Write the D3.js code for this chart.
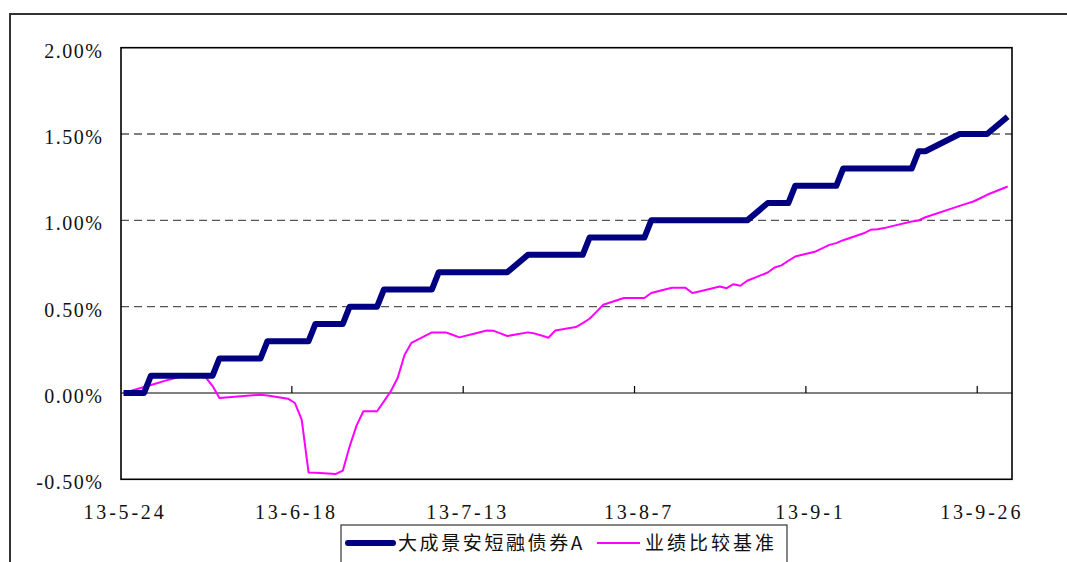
<!DOCTYPE html>
<html><head><meta charset="utf-8">
<script src="https://cdn.jsdelivr.net/npm/d3@7"></script>
<style>html,body{margin:0;padding:0;background:#fff;}svg{display:block;}</style>
</head><body>
<svg id="c" width="1067" height="562"></svg>
<script>
const dates = ["2013-05-24","2013-05-27","2013-05-28","2013-05-29","2013-05-30","2013-05-31",
"2013-06-03","2013-06-04","2013-06-05","2013-06-06","2013-06-07","2013-06-13","2013-06-14",
"2013-06-17","2013-06-18","2013-06-19","2013-06-20","2013-06-21","2013-06-24","2013-06-25",
"2013-06-26","2013-06-27","2013-06-28","2013-06-30","2013-07-01","2013-07-02","2013-07-03",
"2013-07-04","2013-07-05","2013-07-08","2013-07-09","2013-07-10","2013-07-11","2013-07-12",
"2013-07-15","2013-07-16","2013-07-17","2013-07-18","2013-07-19","2013-07-22","2013-07-23",
"2013-07-24","2013-07-25","2013-07-26","2013-07-29","2013-07-30","2013-07-31","2013-08-01",
"2013-08-02","2013-08-05","2013-08-06","2013-08-07","2013-08-08","2013-08-09","2013-08-12",
"2013-08-13","2013-08-14","2013-08-15","2013-08-16","2013-08-19","2013-08-20","2013-08-21",
"2013-08-22","2013-08-23","2013-08-26","2013-08-27","2013-08-28","2013-08-29","2013-08-30",
"2013-09-02","2013-09-03","2013-09-04","2013-09-05","2013-09-06","2013-09-09","2013-09-10",
"2013-09-11","2013-09-12","2013-09-13","2013-09-16","2013-09-17","2013-09-18","2013-09-23",
"2013-09-24","2013-09-25","2013-09-26","2013-09-27","2013-09-30"];

// 大成景安短融债券A (%)
const fund = [0,0,0.1,0.1,0.1,0.1,
0.1,0.1,0.1,0.1,0.2,0.2,0.3,
0.3,0.3,0.3,0.3,0.4,0.4,0.4,
0.5,0.5,0.5,0.5,0.6,0.6,0.6,
0.6,0.6,0.6,0.7,0.7,0.7,0.7,
0.7,0.7,0.7,0.7,0.7,0.8,0.8,
0.8,0.8,0.8,0.8,0.8,0.9,0.9,
0.9,0.9,0.9,0.9,0.9,1.0,1.0,
1.0,1.0,1.0,1.0,1.0,1.0,1.0,
1.0,1.0,1.1,1.1,1.1,1.1,1.2,
1.2,1.2,1.2,1.2,1.3,1.3,1.3,
1.3,1.3,1.3,1.3,1.4,1.4,1.5,
1.5,1.5,1.5,1.5,1.6];

// 业绩比较基准 (%)
const bench = [0,0.035,0.046,0.058,0.070,0.081,
0.110,0.100,0.090,0.040,-0.029,-0.010,-0.014,
-0.033,-0.058,-0.155,-0.460,-0.462,-0.469,-0.450,
-0.309,-0.189,-0.106,-0.106,-0.049,0.010,0.087,
0.220,0.290,0.351,0.351,0.351,0.337,0.322,
0.352,0.362,0.360,0.345,0.330,0.351,0.344,
0.333,0.320,0.362,0.382,0.405,0.430,0.470,
0.511,0.550,0.550,0.550,0.550,0.579,0.609,
0.609,0.609,0.579,0.588,0.617,0.607,0.630,
0.621,0.650,0.698,0.727,0.739,0.766,0.790,
0.820,0.839,0.858,0.868,0.885,0.925,0.945,
0.949,0.955,0.965,0.993,0.999,1.018,1.084,
1.097,1.109,1.128,1.148,1.196];

const seriesNames = ["大成景安短融债券A","业绩比较基准"];
const yTicks = [-0.5, 0, 0.5, 1.0, 1.5, 2.0];
const yTickLabels = ["-0.50%","0.00%","0.50%","1.00%","1.50%","2.00%"];
const xTickDates = ["2013-05-24","2013-06-18","2013-07-13","2013-08-07","2013-09-01","2013-09-26"];
const xTickLabels = ["13-5-24","13-6-18","13-7-13","13-8-7","13-9-1","13-9-26"];
const xDomain = ["2013-05-24","2013-10-01"];

const svg = d3.select("#c");
const W = 1067, H = 562;
const L = 121, R = 1012, T = 47.7, B = 479.3;
const parse = d3.utcParse("%Y-%m-%d");
const serifFont = "'Liberation Serif', 'Times New Roman', 'DejaVu Serif', serif";

const x = d3.scaleUtc().domain(xDomain.map(parse)).range([L + 2.5, R + 2.5]);
const y = d3.scaleLinear().domain([-0.5, 2.0]).range([B, T]);

// outer frame
svg.append("rect").attr("x", 10).attr("y", 14).attr("width", W + 20).attr("height", H + 20)
  .attr("fill", "none").attr("stroke", "#333").attr("stroke-width", 2);

// gridlines (dashed)
svg.append("g").selectAll("line").data(yTicks.filter(v => v > 0 && v < 2))
  .join("line")
  .attr("x1", L).attr("x2", R)
  .attr("y1", d => y(d)).attr("y2", d => y(d))
  .attr("stroke", "#555").attr("stroke-width", 1.3).attr("stroke-dasharray", "8,5");

// zero axis line
svg.append("line").attr("x1", L).attr("x2", R).attr("y1", y(0)).attr("y2", y(0))
  .attr("stroke", "#000").attr("stroke-width", 1.2);

// x tick marks on zero line
svg.append("g").selectAll("line").data(xTickDates.slice(1))
  .join("line")
  .attr("x1", d => x(parse(d)) - 3).attr("x2", d => x(parse(d)) - 3)
  .attr("y1", y(0)).attr("y2", y(0) - 7)
  .attr("stroke", "#000").attr("stroke-width", 1.2);

// plot frame
svg.append("rect").attr("x", L).attr("y", T).attr("width", R - L).attr("height", B - T)
  .attr("fill", "none").attr("stroke", "#000").attr("stroke-width", 1.6);

// y labels
svg.append("g").selectAll("text").data(yTicks)
  .join("text")
  .attr("x", 103.5).attr("y", d => y(d) + 10)
  .attr("text-anchor", "end")
  .style("font-family", serifFont).attr("font-size", 20)
  .attr("letter-spacing", "1.5px").attr("fill", "#111")
  .text((d, i) => yTickLabels[i]);

// x labels
svg.append("g").selectAll("text").data(xTickDates)
  .join("text")
  .attr("x", d => x(parse(d)) + 1.5).attr("y", 519)
  .attr("text-anchor", "middle")
  .style("font-family", serifFont).attr("font-size", 20)
  .attr("letter-spacing", "2.8px").attr("fill", "#111")
  .text((d, i) => xTickLabels[i]);

const pts = dates.map(parse);
const lineGen = vals => d3.line().x((d, i) => x(pts[i])).y(d => y(d))(vals);

svg.append("path").attr("d", lineGen(bench))
  .attr("fill", "none").attr("stroke", "#FF00FF").attr("stroke-width", 2)
  .attr("stroke-linejoin", "round");
svg.append("path").attr("d", lineGen(fund))
  .attr("fill", "none").attr("stroke", "#000080").attr("stroke-width", 6)
  .attr("stroke-linejoin", "round").attr("stroke-linecap", "butt");

// legend
const lg = svg.append("g");
lg.append("rect").attr("x", 341).attr("y", 525).attr("width", 446).attr("height", 60)
  .attr("fill", "#fff").attr("stroke", "#444").attr("stroke-width", 1.3);
lg.append("line").attr("x1", 348).attr("x2", 393).attr("y1", 543).attr("y2", 543)
  .attr("stroke", "#000080").attr("stroke-width", 6).attr("stroke-linecap", "round");
lg.append("text").attr("x", 398).attr("y", 550)
  .style("font-family", "'Noto Sans CJK SC', sans-serif").attr("font-size", 19)
  .attr("letter-spacing", "2.6px").attr("fill", "#111").text(seriesNames[0]);
lg.append("line").attr("x1", 597).attr("x2", 640).attr("y1", 543).attr("y2", 543)
  .attr("stroke", "#FF00FF").attr("stroke-width", 2);
lg.append("text").attr("x", 645).attr("y", 550)
  .style("font-family", "'Noto Sans CJK SC', sans-serif").attr("font-size", 19)
  .attr("letter-spacing", "3px").attr("fill", "#111").text(seriesNames[1]);
</script>
</body></html>
